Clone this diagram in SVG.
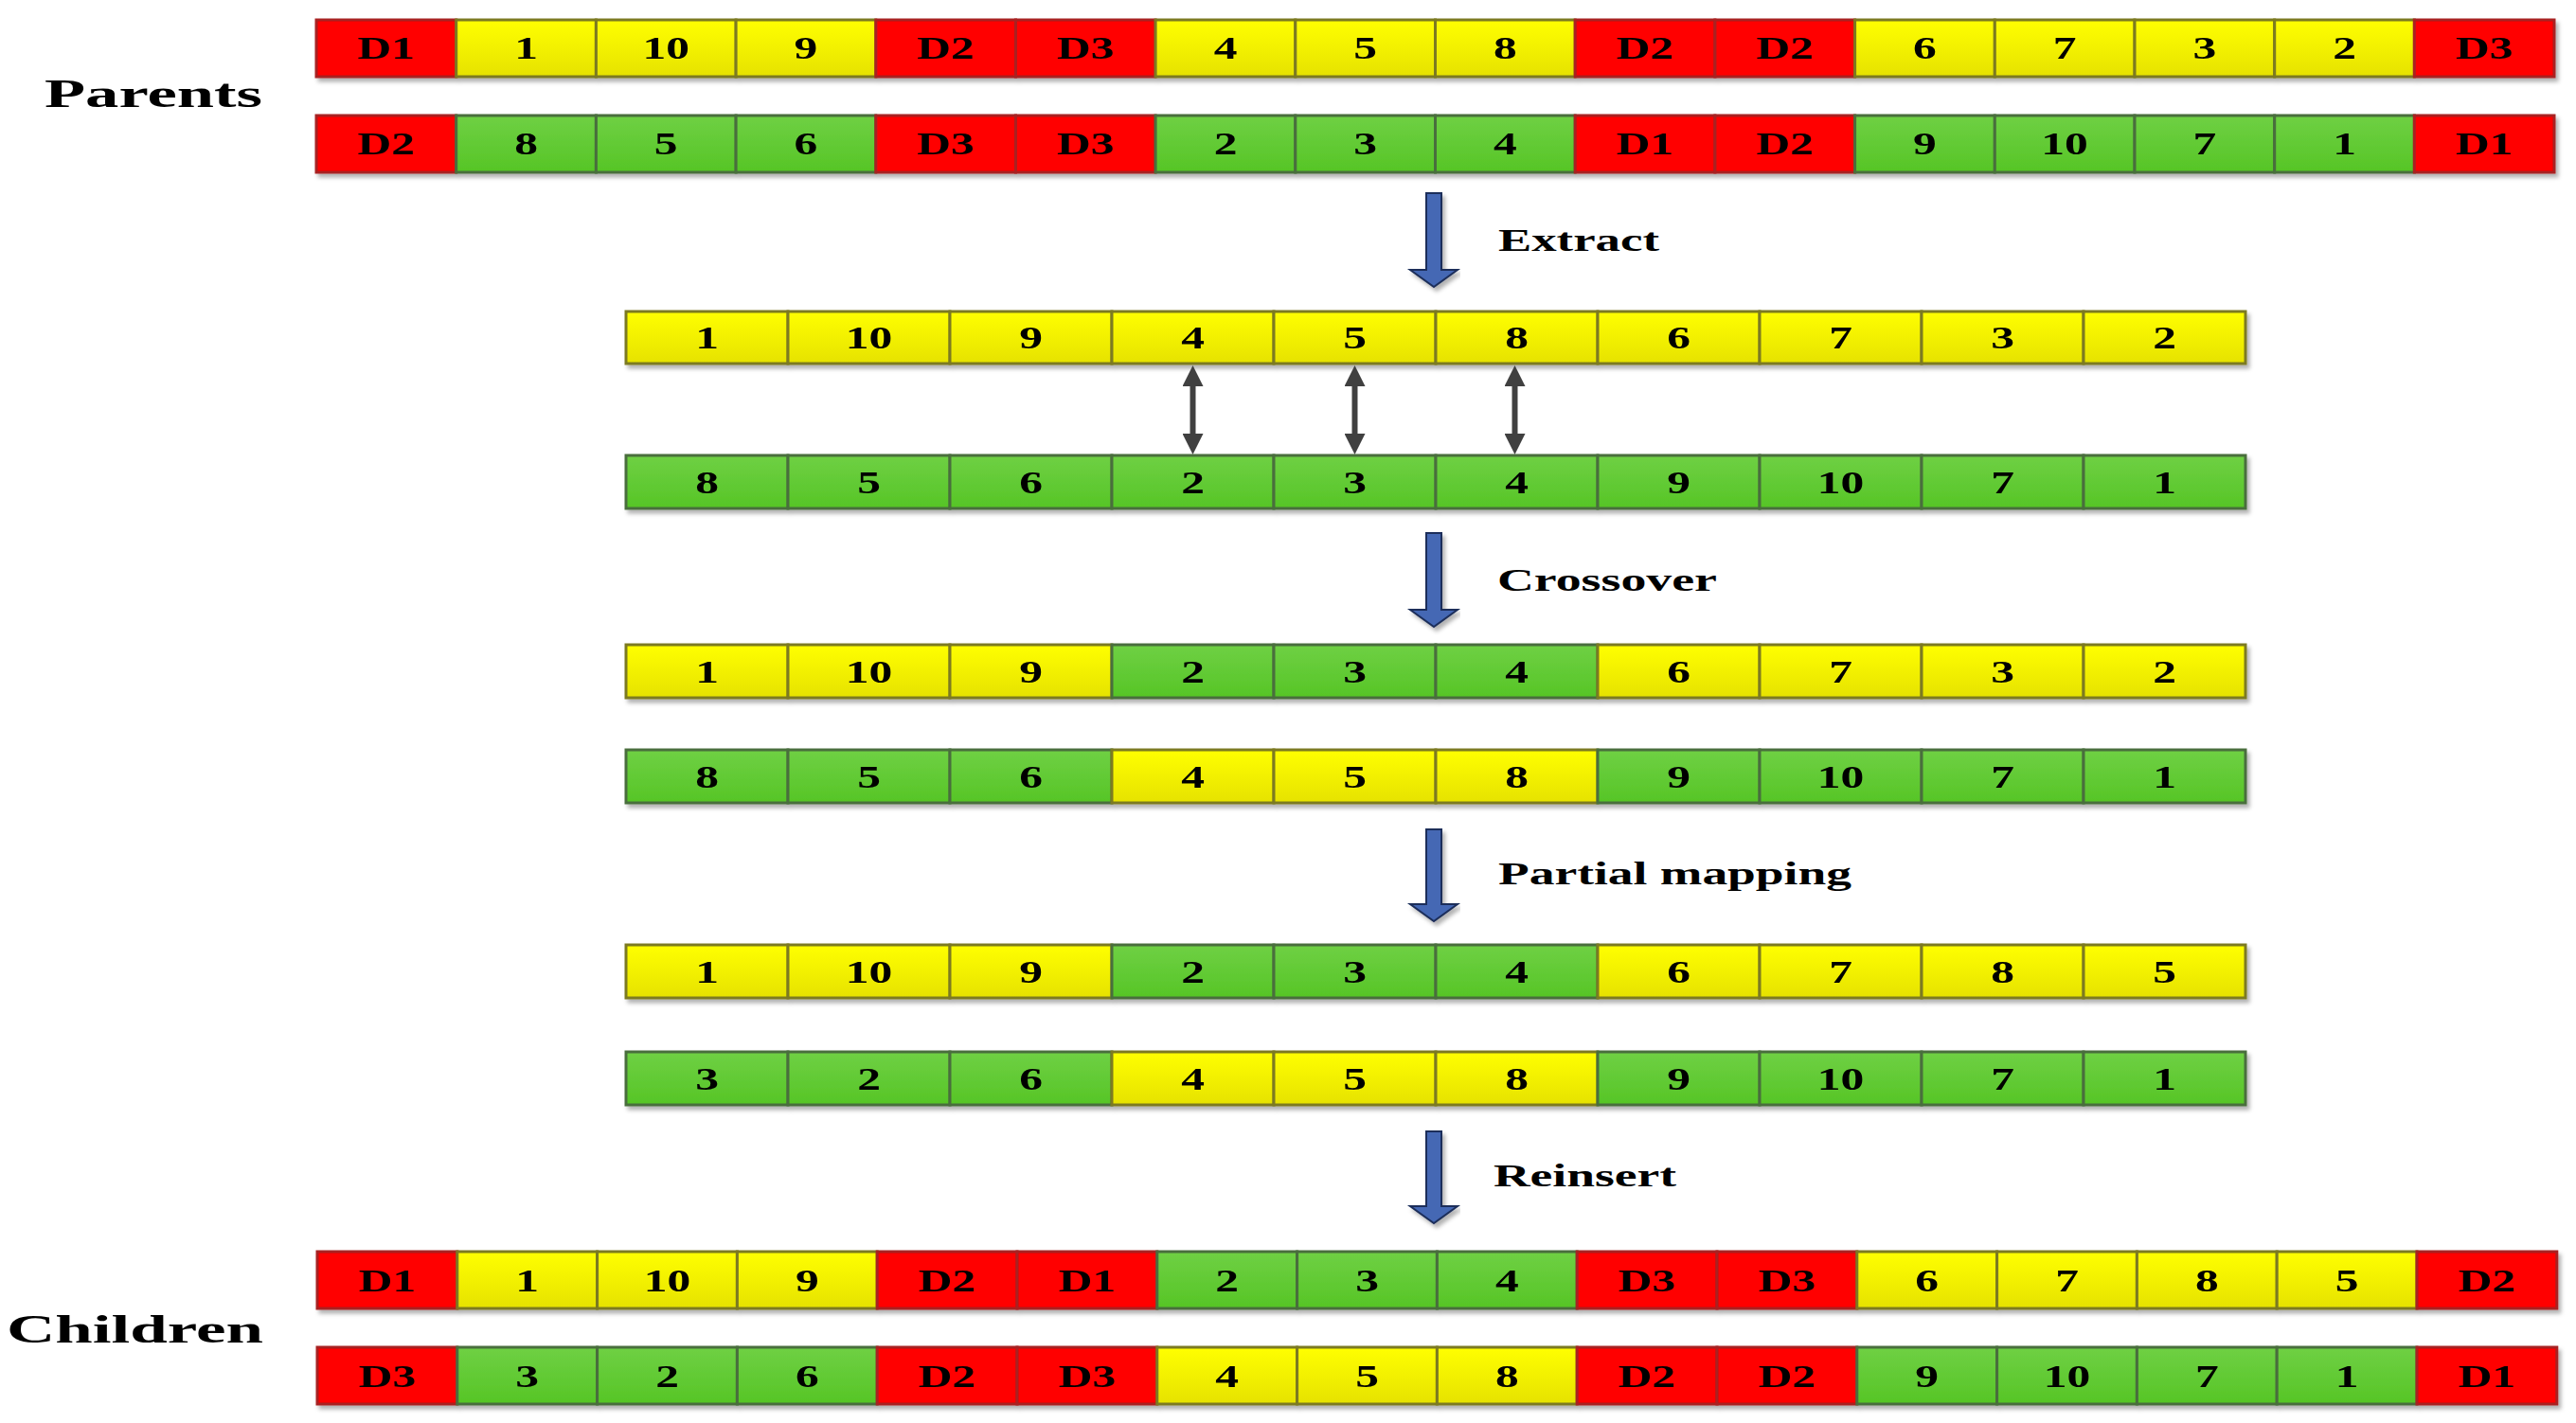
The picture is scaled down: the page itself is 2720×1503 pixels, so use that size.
<svg xmlns="http://www.w3.org/2000/svg" width="2720" height="1503" viewBox="0 0 2720 1503">
<defs>
<linearGradient id="gy" x1="0" y1="0" x2="0" y2="1"><stop offset="0" stop-color="#ffff00"/><stop offset="1" stop-color="#e6e200"/></linearGradient>
<linearGradient id="gg" x1="0" y1="0" x2="0" y2="1"><stop offset="0" stop-color="#6fd044"/><stop offset="1" stop-color="#56c526"/></linearGradient>
<filter id="sh" x="-5%" y="-20%" width="110%" height="150%"><feDropShadow dx="3" dy="4" stdDeviation="2" flood-color="#000" flood-opacity="0.3"/></filter>
<marker id="dh" viewBox="0 0 22 22" refX="0" refY="11" markerWidth="22" markerHeight="22" markerUnits="userSpaceOnUse" orient="auto-start-reverse"><path d="M0,0 L22,11 L0,22 z" fill="#404040"/></marker>
<style>
.r{fill:#ff0000;stroke:#a82222;stroke-width:3}
.y{fill:url(#gy);stroke:#7c7a20;stroke-width:3}
.g{fill:url(#gg);stroke:#4a6e3c;stroke-width:3}
.t{font-family:"Liberation Serif","Times New Roman",serif;font-weight:bold;font-size:33px;text-anchor:middle;fill:#000}
.lb{font-family:"Liberation Serif","Times New Roman",serif;font-weight:bold;fill:#000}
.ba{fill:#4468b4;stroke:#1c2e5a;stroke-width:2}
.da{stroke:#404040;stroke-width:6;fill:none}
</style>
</defs>
<rect width="2720" height="1503" fill="#fff"/>

<text id="lbl-parents" class="lb" x="47" y="113" font-size="43" textLength="230" lengthAdjust="spacingAndGlyphs">Parents</text>
<text id="lbl-children" class="lb" x="7" y="1418" font-size="43" textLength="271" lengthAdjust="spacingAndGlyphs">Children</text>

<!-- Parent 1 -->
<g id="parent1" filter="url(#sh)">
<g id="p1-0"><rect class="r" x="334" y="21" width="147.7" height="60"/><text class="t" transform="translate(407.8,62) scale(1.5,1)">D1</text></g>
<g id="p1-1"><rect class="y" x="481.7" y="21" width="147.7" height="60"/><text class="t" transform="translate(555.5,62) scale(1.5,1)">1</text></g>
<g id="p1-2"><rect class="y" x="629.4" y="21" width="147.7" height="60"/><text class="t" transform="translate(703.2,62) scale(1.5,1)">10</text></g>
<g id="p1-3"><rect class="y" x="777.1" y="21" width="147.7" height="60"/><text class="t" transform="translate(850.9,62) scale(1.5,1)">9</text></g>
<g id="p1-4"><rect class="r" x="924.8" y="21" width="147.7" height="60"/><text class="t" transform="translate(998.6,62) scale(1.5,1)">D2</text></g>
<g id="p1-5"><rect class="r" x="1072.4" y="21" width="147.7" height="60"/><text class="t" transform="translate(1146.3,62) scale(1.5,1)">D3</text></g>
<g id="p1-6"><rect class="y" x="1220.1" y="21" width="147.7" height="60"/><text class="t" transform="translate(1294,62) scale(1.5,1)">4</text></g>
<g id="p1-7"><rect class="y" x="1367.8" y="21" width="147.7" height="60"/><text class="t" transform="translate(1441.7,62) scale(1.5,1)">5</text></g>
<g id="p1-8"><rect class="y" x="1515.5" y="21" width="147.7" height="60"/><text class="t" transform="translate(1589.4,62) scale(1.5,1)">8</text></g>
<g id="p1-9"><rect class="r" x="1663.2" y="21" width="147.7" height="60"/><text class="t" transform="translate(1737.1,62) scale(1.5,1)">D2</text></g>
<g id="p1-10"><rect class="r" x="1810.9" y="21" width="147.7" height="60"/><text class="t" transform="translate(1884.7,62) scale(1.5,1)">D2</text></g>
<g id="p1-11"><rect class="y" x="1958.6" y="21" width="147.7" height="60"/><text class="t" transform="translate(2032.4,62) scale(1.5,1)">6</text></g>
<g id="p1-12"><rect class="y" x="2106.3" y="21" width="147.7" height="60"/><text class="t" transform="translate(2180.1,62) scale(1.5,1)">7</text></g>
<g id="p1-13"><rect class="y" x="2254" y="21" width="147.7" height="60"/><text class="t" transform="translate(2327.8,62) scale(1.5,1)">3</text></g>
<g id="p1-14"><rect class="y" x="2401.7" y="21" width="147.7" height="60"/><text class="t" transform="translate(2475.5,62) scale(1.5,1)">2</text></g>
<g id="p1-15"><rect class="r" x="2549.3" y="21" width="147.7" height="60"/><text class="t" transform="translate(2623.2,62) scale(1.5,1)">D3</text></g>
</g>

<!-- Parent 2 -->
<g id="parent2" filter="url(#sh)">
<g id="p2-0"><rect class="r" x="334" y="122" width="147.7" height="60"/><text class="t" transform="translate(407.8,163) scale(1.5,1)">D2</text></g>
<g id="p2-1"><rect class="g" x="481.7" y="122" width="147.7" height="60"/><text class="t" transform="translate(555.5,163) scale(1.5,1)">8</text></g>
<g id="p2-2"><rect class="g" x="629.4" y="122" width="147.7" height="60"/><text class="t" transform="translate(703.2,163) scale(1.5,1)">5</text></g>
<g id="p2-3"><rect class="g" x="777.1" y="122" width="147.7" height="60"/><text class="t" transform="translate(850.9,163) scale(1.5,1)">6</text></g>
<g id="p2-4"><rect class="r" x="924.8" y="122" width="147.7" height="60"/><text class="t" transform="translate(998.6,163) scale(1.5,1)">D3</text></g>
<g id="p2-5"><rect class="r" x="1072.4" y="122" width="147.7" height="60"/><text class="t" transform="translate(1146.3,163) scale(1.5,1)">D3</text></g>
<g id="p2-6"><rect class="g" x="1220.1" y="122" width="147.7" height="60"/><text class="t" transform="translate(1294,163) scale(1.5,1)">2</text></g>
<g id="p2-7"><rect class="g" x="1367.8" y="122" width="147.7" height="60"/><text class="t" transform="translate(1441.7,163) scale(1.5,1)">3</text></g>
<g id="p2-8"><rect class="g" x="1515.5" y="122" width="147.7" height="60"/><text class="t" transform="translate(1589.4,163) scale(1.5,1)">4</text></g>
<g id="p2-9"><rect class="r" x="1663.2" y="122" width="147.7" height="60"/><text class="t" transform="translate(1737.1,163) scale(1.5,1)">D1</text></g>
<g id="p2-10"><rect class="r" x="1810.9" y="122" width="147.7" height="60"/><text class="t" transform="translate(1884.7,163) scale(1.5,1)">D2</text></g>
<g id="p2-11"><rect class="g" x="1958.6" y="122" width="147.7" height="60"/><text class="t" transform="translate(2032.4,163) scale(1.5,1)">9</text></g>
<g id="p2-12"><rect class="g" x="2106.3" y="122" width="147.7" height="60"/><text class="t" transform="translate(2180.1,163) scale(1.5,1)">10</text></g>
<g id="p2-13"><rect class="g" x="2254" y="122" width="147.7" height="60"/><text class="t" transform="translate(2327.8,163) scale(1.5,1)">7</text></g>
<g id="p2-14"><rect class="g" x="2401.7" y="122" width="147.7" height="60"/><text class="t" transform="translate(2475.5,163) scale(1.5,1)">1</text></g>
<g id="p2-15"><rect class="r" x="2549.3" y="122" width="147.7" height="60"/><text class="t" transform="translate(2623.2,163) scale(1.5,1)">D1</text></g>
</g>

<!-- Extracted 1 -->
<g id="ext1" filter="url(#sh)">
<g id="e1-0"><rect class="y" x="661" y="329" width="171" height="55"/><text class="t" transform="translate(746.5,368) scale(1.5,1)">1</text></g>
<g id="e1-1"><rect class="y" x="832" y="329" width="171" height="55"/><text class="t" transform="translate(917.5,368) scale(1.5,1)">10</text></g>
<g id="e1-2"><rect class="y" x="1003" y="329" width="171" height="55"/><text class="t" transform="translate(1088.5,368) scale(1.5,1)">9</text></g>
<g id="e1-3"><rect class="y" x="1174" y="329" width="171" height="55"/><text class="t" transform="translate(1259.5,368) scale(1.5,1)">4</text></g>
<g id="e1-4"><rect class="y" x="1345" y="329" width="171" height="55"/><text class="t" transform="translate(1430.5,368) scale(1.5,1)">5</text></g>
<g id="e1-5"><rect class="y" x="1516" y="329" width="171" height="55"/><text class="t" transform="translate(1601.5,368) scale(1.5,1)">8</text></g>
<g id="e1-6"><rect class="y" x="1687" y="329" width="171" height="55"/><text class="t" transform="translate(1772.5,368) scale(1.5,1)">6</text></g>
<g id="e1-7"><rect class="y" x="1858" y="329" width="171" height="55"/><text class="t" transform="translate(1943.5,368) scale(1.5,1)">7</text></g>
<g id="e1-8"><rect class="y" x="2029" y="329" width="171" height="55"/><text class="t" transform="translate(2114.5,368) scale(1.5,1)">3</text></g>
<g id="e1-9"><rect class="y" x="2200" y="329" width="171" height="55"/><text class="t" transform="translate(2285.5,368) scale(1.5,1)">2</text></g>
</g>

<!-- Extracted 2 -->
<g id="ext2" filter="url(#sh)">
<g id="e2-0"><rect class="g" x="661" y="481" width="171" height="56"/><text class="t" transform="translate(746.5,521) scale(1.5,1)">8</text></g>
<g id="e2-1"><rect class="g" x="832" y="481" width="171" height="56"/><text class="t" transform="translate(917.5,521) scale(1.5,1)">5</text></g>
<g id="e2-2"><rect class="g" x="1003" y="481" width="171" height="56"/><text class="t" transform="translate(1088.5,521) scale(1.5,1)">6</text></g>
<g id="e2-3"><rect class="g" x="1174" y="481" width="171" height="56"/><text class="t" transform="translate(1259.5,521) scale(1.5,1)">2</text></g>
<g id="e2-4"><rect class="g" x="1345" y="481" width="171" height="56"/><text class="t" transform="translate(1430.5,521) scale(1.5,1)">3</text></g>
<g id="e2-5"><rect class="g" x="1516" y="481" width="171" height="56"/><text class="t" transform="translate(1601.5,521) scale(1.5,1)">4</text></g>
<g id="e2-6"><rect class="g" x="1687" y="481" width="171" height="56"/><text class="t" transform="translate(1772.5,521) scale(1.5,1)">9</text></g>
<g id="e2-7"><rect class="g" x="1858" y="481" width="171" height="56"/><text class="t" transform="translate(1943.5,521) scale(1.5,1)">10</text></g>
<g id="e2-8"><rect class="g" x="2029" y="481" width="171" height="56"/><text class="t" transform="translate(2114.5,521) scale(1.5,1)">7</text></g>
<g id="e2-9"><rect class="g" x="2200" y="481" width="171" height="56"/><text class="t" transform="translate(2285.5,521) scale(1.5,1)">1</text></g>
</g>

<!-- Crossover 1 -->
<g id="cx1" filter="url(#sh)">
<g id="c1-0"><rect class="y" x="661" y="681" width="171" height="56"/><text class="t" transform="translate(746.5,721) scale(1.5,1)">1</text></g>
<g id="c1-1"><rect class="y" x="832" y="681" width="171" height="56"/><text class="t" transform="translate(917.5,721) scale(1.5,1)">10</text></g>
<g id="c1-2"><rect class="y" x="1003" y="681" width="171" height="56"/><text class="t" transform="translate(1088.5,721) scale(1.5,1)">9</text></g>
<g id="c1-3"><rect class="g" x="1174" y="681" width="171" height="56"/><text class="t" transform="translate(1259.5,721) scale(1.5,1)">2</text></g>
<g id="c1-4"><rect class="g" x="1345" y="681" width="171" height="56"/><text class="t" transform="translate(1430.5,721) scale(1.5,1)">3</text></g>
<g id="c1-5"><rect class="g" x="1516" y="681" width="171" height="56"/><text class="t" transform="translate(1601.5,721) scale(1.5,1)">4</text></g>
<g id="c1-6"><rect class="y" x="1687" y="681" width="171" height="56"/><text class="t" transform="translate(1772.5,721) scale(1.5,1)">6</text></g>
<g id="c1-7"><rect class="y" x="1858" y="681" width="171" height="56"/><text class="t" transform="translate(1943.5,721) scale(1.5,1)">7</text></g>
<g id="c1-8"><rect class="y" x="2029" y="681" width="171" height="56"/><text class="t" transform="translate(2114.5,721) scale(1.5,1)">3</text></g>
<g id="c1-9"><rect class="y" x="2200" y="681" width="171" height="56"/><text class="t" transform="translate(2285.5,721) scale(1.5,1)">2</text></g>
</g>

<!-- Crossover 2 -->
<g id="cx2" filter="url(#sh)">
<g id="c2-0"><rect class="g" x="661" y="792" width="171" height="56"/><text class="t" transform="translate(746.5,832) scale(1.5,1)">8</text></g>
<g id="c2-1"><rect class="g" x="832" y="792" width="171" height="56"/><text class="t" transform="translate(917.5,832) scale(1.5,1)">5</text></g>
<g id="c2-2"><rect class="g" x="1003" y="792" width="171" height="56"/><text class="t" transform="translate(1088.5,832) scale(1.5,1)">6</text></g>
<g id="c2-3"><rect class="y" x="1174" y="792" width="171" height="56"/><text class="t" transform="translate(1259.5,832) scale(1.5,1)">4</text></g>
<g id="c2-4"><rect class="y" x="1345" y="792" width="171" height="56"/><text class="t" transform="translate(1430.5,832) scale(1.5,1)">5</text></g>
<g id="c2-5"><rect class="y" x="1516" y="792" width="171" height="56"/><text class="t" transform="translate(1601.5,832) scale(1.5,1)">8</text></g>
<g id="c2-6"><rect class="g" x="1687" y="792" width="171" height="56"/><text class="t" transform="translate(1772.5,832) scale(1.5,1)">9</text></g>
<g id="c2-7"><rect class="g" x="1858" y="792" width="171" height="56"/><text class="t" transform="translate(1943.5,832) scale(1.5,1)">10</text></g>
<g id="c2-8"><rect class="g" x="2029" y="792" width="171" height="56"/><text class="t" transform="translate(2114.5,832) scale(1.5,1)">7</text></g>
<g id="c2-9"><rect class="g" x="2200" y="792" width="171" height="56"/><text class="t" transform="translate(2285.5,832) scale(1.5,1)">1</text></g>
</g>

<!-- Partial mapping 1 -->
<g id="pm1" filter="url(#sh)">
<g id="m1-0"><rect class="y" x="661" y="998" width="171" height="56"/><text class="t" transform="translate(746.5,1038) scale(1.5,1)">1</text></g>
<g id="m1-1"><rect class="y" x="832" y="998" width="171" height="56"/><text class="t" transform="translate(917.5,1038) scale(1.5,1)">10</text></g>
<g id="m1-2"><rect class="y" x="1003" y="998" width="171" height="56"/><text class="t" transform="translate(1088.5,1038) scale(1.5,1)">9</text></g>
<g id="m1-3"><rect class="g" x="1174" y="998" width="171" height="56"/><text class="t" transform="translate(1259.5,1038) scale(1.5,1)">2</text></g>
<g id="m1-4"><rect class="g" x="1345" y="998" width="171" height="56"/><text class="t" transform="translate(1430.5,1038) scale(1.5,1)">3</text></g>
<g id="m1-5"><rect class="g" x="1516" y="998" width="171" height="56"/><text class="t" transform="translate(1601.5,1038) scale(1.5,1)">4</text></g>
<g id="m1-6"><rect class="y" x="1687" y="998" width="171" height="56"/><text class="t" transform="translate(1772.5,1038) scale(1.5,1)">6</text></g>
<g id="m1-7"><rect class="y" x="1858" y="998" width="171" height="56"/><text class="t" transform="translate(1943.5,1038) scale(1.5,1)">7</text></g>
<g id="m1-8"><rect class="y" x="2029" y="998" width="171" height="56"/><text class="t" transform="translate(2114.5,1038) scale(1.5,1)">8</text></g>
<g id="m1-9"><rect class="y" x="2200" y="998" width="171" height="56"/><text class="t" transform="translate(2285.5,1038) scale(1.5,1)">5</text></g>
</g>

<!-- Partial mapping 2 -->
<g id="pm2" filter="url(#sh)">
<g id="m2-0"><rect class="g" x="661" y="1111" width="171" height="56"/><text class="t" transform="translate(746.5,1151) scale(1.5,1)">3</text></g>
<g id="m2-1"><rect class="g" x="832" y="1111" width="171" height="56"/><text class="t" transform="translate(917.5,1151) scale(1.5,1)">2</text></g>
<g id="m2-2"><rect class="g" x="1003" y="1111" width="171" height="56"/><text class="t" transform="translate(1088.5,1151) scale(1.5,1)">6</text></g>
<g id="m2-3"><rect class="y" x="1174" y="1111" width="171" height="56"/><text class="t" transform="translate(1259.5,1151) scale(1.5,1)">4</text></g>
<g id="m2-4"><rect class="y" x="1345" y="1111" width="171" height="56"/><text class="t" transform="translate(1430.5,1151) scale(1.5,1)">5</text></g>
<g id="m2-5"><rect class="y" x="1516" y="1111" width="171" height="56"/><text class="t" transform="translate(1601.5,1151) scale(1.5,1)">8</text></g>
<g id="m2-6"><rect class="g" x="1687" y="1111" width="171" height="56"/><text class="t" transform="translate(1772.5,1151) scale(1.5,1)">9</text></g>
<g id="m2-7"><rect class="g" x="1858" y="1111" width="171" height="56"/><text class="t" transform="translate(1943.5,1151) scale(1.5,1)">10</text></g>
<g id="m2-8"><rect class="g" x="2029" y="1111" width="171" height="56"/><text class="t" transform="translate(2114.5,1151) scale(1.5,1)">7</text></g>
<g id="m2-9"><rect class="g" x="2200" y="1111" width="171" height="56"/><text class="t" transform="translate(2285.5,1151) scale(1.5,1)">1</text></g>
</g>

<!-- Child 1 -->
<g id="child1" filter="url(#sh)">
<g id="k1-0"><rect class="r" x="335" y="1322" width="147.8" height="60"/><text class="t" transform="translate(408.9,1364) scale(1.5,1)">D1</text></g>
<g id="k1-1"><rect class="y" x="482.8" y="1322" width="147.8" height="60"/><text class="t" transform="translate(556.7,1364) scale(1.5,1)">1</text></g>
<g id="k1-2"><rect class="y" x="630.6" y="1322" width="147.8" height="60"/><text class="t" transform="translate(704.5,1364) scale(1.5,1)">10</text></g>
<g id="k1-3"><rect class="y" x="778.4" y="1322" width="147.8" height="60"/><text class="t" transform="translate(852.3,1364) scale(1.5,1)">9</text></g>
<g id="k1-4"><rect class="r" x="926.2" y="1322" width="147.8" height="60"/><text class="t" transform="translate(1000.1,1364) scale(1.5,1)">D2</text></g>
<g id="k1-5"><rect class="r" x="1074" y="1322" width="147.8" height="60"/><text class="t" transform="translate(1147.9,1364) scale(1.5,1)">D1</text></g>
<g id="k1-6"><rect class="g" x="1221.8" y="1322" width="147.8" height="60"/><text class="t" transform="translate(1295.7,1364) scale(1.5,1)">2</text></g>
<g id="k1-7"><rect class="g" x="1369.6" y="1322" width="147.8" height="60"/><text class="t" transform="translate(1443.5,1364) scale(1.5,1)">3</text></g>
<g id="k1-8"><rect class="g" x="1517.4" y="1322" width="147.8" height="60"/><text class="t" transform="translate(1591.3,1364) scale(1.5,1)">4</text></g>
<g id="k1-9"><rect class="r" x="1665.2" y="1322" width="147.8" height="60"/><text class="t" transform="translate(1739.1,1364) scale(1.5,1)">D3</text></g>
<g id="k1-10"><rect class="r" x="1813" y="1322" width="147.8" height="60"/><text class="t" transform="translate(1886.9,1364) scale(1.5,1)">D3</text></g>
<g id="k1-11"><rect class="y" x="1960.8" y="1322" width="147.8" height="60"/><text class="t" transform="translate(2034.7,1364) scale(1.5,1)">6</text></g>
<g id="k1-12"><rect class="y" x="2108.6" y="1322" width="147.8" height="60"/><text class="t" transform="translate(2182.5,1364) scale(1.5,1)">7</text></g>
<g id="k1-13"><rect class="y" x="2256.4" y="1322" width="147.8" height="60"/><text class="t" transform="translate(2330.3,1364) scale(1.5,1)">8</text></g>
<g id="k1-14"><rect class="y" x="2404.2" y="1322" width="147.8" height="60"/><text class="t" transform="translate(2478.1,1364) scale(1.5,1)">5</text></g>
<g id="k1-15"><rect class="r" x="2552" y="1322" width="147.8" height="60"/><text class="t" transform="translate(2625.9,1364) scale(1.5,1)">D2</text></g>
</g>

<!-- Child 2 -->
<g id="child2" filter="url(#sh)">
<g id="k2-0"><rect class="r" x="335" y="1423" width="147.8" height="60"/><text class="t" transform="translate(408.9,1465) scale(1.5,1)">D3</text></g>
<g id="k2-1"><rect class="g" x="482.8" y="1423" width="147.8" height="60"/><text class="t" transform="translate(556.7,1465) scale(1.5,1)">3</text></g>
<g id="k2-2"><rect class="g" x="630.6" y="1423" width="147.8" height="60"/><text class="t" transform="translate(704.5,1465) scale(1.5,1)">2</text></g>
<g id="k2-3"><rect class="g" x="778.4" y="1423" width="147.8" height="60"/><text class="t" transform="translate(852.3,1465) scale(1.5,1)">6</text></g>
<g id="k2-4"><rect class="r" x="926.2" y="1423" width="147.8" height="60"/><text class="t" transform="translate(1000.1,1465) scale(1.5,1)">D2</text></g>
<g id="k2-5"><rect class="r" x="1074" y="1423" width="147.8" height="60"/><text class="t" transform="translate(1147.9,1465) scale(1.5,1)">D3</text></g>
<g id="k2-6"><rect class="y" x="1221.8" y="1423" width="147.8" height="60"/><text class="t" transform="translate(1295.7,1465) scale(1.5,1)">4</text></g>
<g id="k2-7"><rect class="y" x="1369.6" y="1423" width="147.8" height="60"/><text class="t" transform="translate(1443.5,1465) scale(1.5,1)">5</text></g>
<g id="k2-8"><rect class="y" x="1517.4" y="1423" width="147.8" height="60"/><text class="t" transform="translate(1591.3,1465) scale(1.5,1)">8</text></g>
<g id="k2-9"><rect class="r" x="1665.2" y="1423" width="147.8" height="60"/><text class="t" transform="translate(1739.1,1465) scale(1.5,1)">D2</text></g>
<g id="k2-10"><rect class="r" x="1813" y="1423" width="147.8" height="60"/><text class="t" transform="translate(1886.9,1465) scale(1.5,1)">D2</text></g>
<g id="k2-11"><rect class="g" x="1960.8" y="1423" width="147.8" height="60"/><text class="t" transform="translate(2034.7,1465) scale(1.5,1)">9</text></g>
<g id="k2-12"><rect class="g" x="2108.6" y="1423" width="147.8" height="60"/><text class="t" transform="translate(2182.5,1465) scale(1.5,1)">10</text></g>
<g id="k2-13"><rect class="g" x="2256.4" y="1423" width="147.8" height="60"/><text class="t" transform="translate(2330.3,1465) scale(1.5,1)">7</text></g>
<g id="k2-14"><rect class="g" x="2404.2" y="1423" width="147.8" height="60"/><text class="t" transform="translate(2478.1,1465) scale(1.5,1)">1</text></g>
<g id="k2-15"><rect class="r" x="2552" y="1423" width="147.8" height="60"/><text class="t" transform="translate(2625.9,1465) scale(1.5,1)">D1</text></g>
</g>

<!-- Connectors -->
<g id="connectors">
<g id="step-arrows" filter="url(#sh)">
<path class="ba" d="M1506,204 h16 v81 h17 l-25,18 l-25,-18 h17 z"/>
<path class="ba" d="M1506,563 h16 v81 h17 l-25,18 l-25,-18 h17 z"/>
<path class="ba" d="M1506,876 h16 v79 h17 l-25,18 l-25,-18 h17 z"/>
<path class="ba" d="M1506,1195 h16 v79 h17 l-25,18 l-25,-18 h17 z"/>
</g>
<line class="da" x1="1259.5" y1="408" x2="1259.5" y2="458" marker-start="url(#dh)" marker-end="url(#dh)"/>
<line class="da" x1="1430.5" y1="408" x2="1430.5" y2="458" marker-start="url(#dh)" marker-end="url(#dh)"/>
<line class="da" x1="1599.5" y1="408" x2="1599.5" y2="458" marker-start="url(#dh)" marker-end="url(#dh)"/>
</g>

<text id="lbl-extract" class="lb" x="1582" y="265" font-size="33" textLength="170" lengthAdjust="spacingAndGlyphs">Extract</text>
<text id="lbl-crossover" class="lb" x="1581" y="624" font-size="33" textLength="232" lengthAdjust="spacingAndGlyphs">Crossover</text>
<text id="lbl-partial" class="lb" x="1582" y="934" font-size="33" textLength="373" lengthAdjust="spacingAndGlyphs">Partial mapping</text>
<text id="lbl-reinsert" class="lb" x="1577" y="1253" font-size="33" textLength="193" lengthAdjust="spacingAndGlyphs">Reinsert</text>
</svg>
